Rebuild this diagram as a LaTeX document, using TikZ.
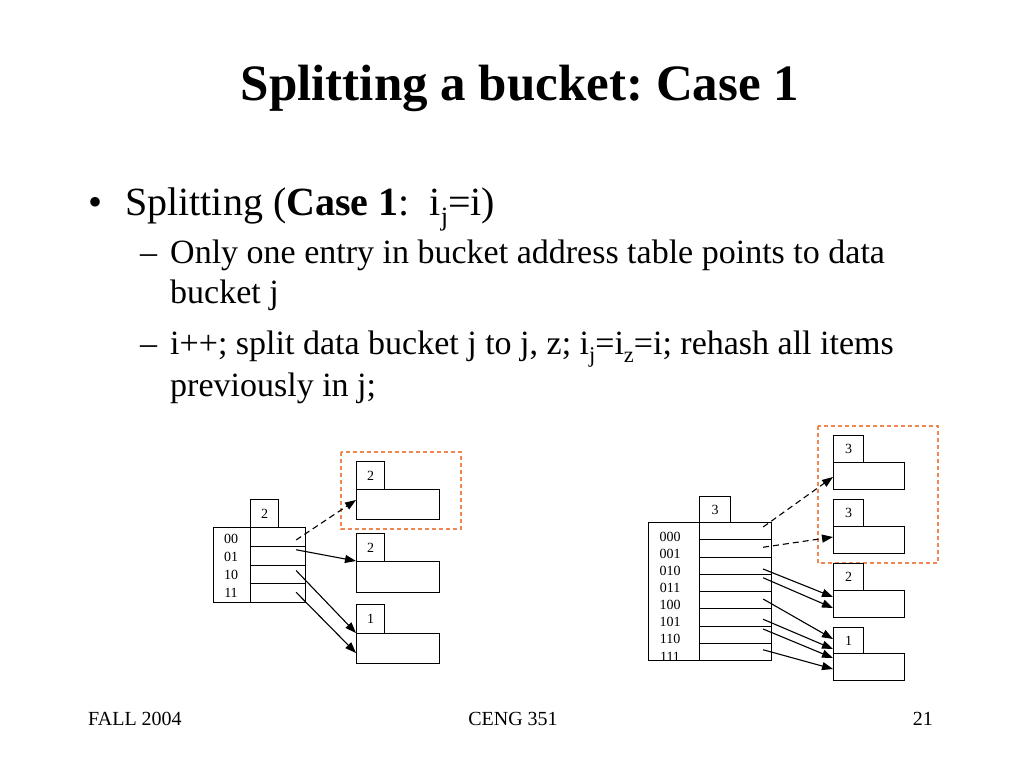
\documentclass[tikz,border=0pt]{standalone}
\usepackage{fontspec}
\setmainfont{Liberation Serif}
\usepackage{graphicx}
\usetikzlibrary{arrows.meta}
\definecolor{selorange}{RGB}{238,135,80}
\newcommand{\subtxt}[1]{\raisebox{-0.25em}{\scalebox{0.66}{#1}}}
\frenchspacing
\begin{document}
\begin{tikzpicture}[x=1pt,y=-1pt,
  box/.style={draw, line width=1.1pt, inner sep=0pt, anchor=north west, font=\fontsize{14}{16}\selectfont},
  lbl/.style={font=\fontsize{14}{16}\selectfont, inner sep=0pt},
  arr/.style={-{Triangle[length=11pt,width=8pt]}, line width=1.1pt},
  darr/.style={arr, dash pattern=on 6pt off 4pt},
  sel/.style={draw=selorange, line width=1.2pt, dash pattern=on 4pt off 3pt},
  txt/.style={inner sep=0pt, anchor=base west}]
\useasboundingbox[fill=white] (0,0) rectangle (1024,768);

% title and text
\node[inner sep=0pt, anchor=base, font=\bfseries\fontsize{51}{60}\selectfont] (title) at (520,100) {Splitting a bucket: Case 1};
\node[txt, font=\fontsize{40}{46}\selectfont] (b1) at (88,215) {\textbullet};
\node[txt, font=\fontsize{40}{46}\selectfont] (t1) at (125,215) {Splitting (\textbf{Case 1}:\ \ i\subtxt{j}=i)};
\node[txt, font=\fontsize{34}{40}\selectfont] (d1) at (140,263) {--};
\node[txt, font=\fontsize{34}{40}\selectfont] (t2) at (170,263) {Only one entry in bucket address table points to data};
\node[txt, font=\fontsize{34}{40}\selectfont] (t3) at (170,303) {bucket j};
\node[txt, font=\fontsize{34}{40}\selectfont] (d2) at (140,354) {--};
\node[txt, font=\fontsize{34}{40}\selectfont] (t4) at (170,354) {i++; split data bucket j to j, z; i\subtxt{j}=i\subtxt{z}=i; rehash all items};
\node[txt, font=\fontsize{34}{40}\selectfont] (t5) at (170,396) {previously in j;};

% footer
\node[txt, font=\fontsize{20}{24}\selectfont] (f1) at (88,725) {FALL 2004};
\node[inner sep=0pt, anchor=base, font=\fontsize{20}{24}\selectfont] (f2) at (513,725) {CENG 351};
\node[inner sep=0pt, anchor=base east, font=\fontsize{20}{24}\selectfont] (f3) at (933,725) {21};

% ---------- left diagram ----------
\draw[sel] (341,452) rectangle (461,529);
\node[box, minimum width=28, minimum height=28] (hL) at (250,499) {2};
\node[box, minimum width=92, minimum height=75] (tL) at (213,527) {};
\foreach \i in {0,...,3} {
  \node[box, minimum width=55, minimum height=18.75] (cL\i) at (250,527+18.75*\i) {};
}
\node[lbl] (lL0) at (231,539) {00};
\node[lbl] (lL1) at (231,557) {01};
\node[lbl] (lL2) at (231,575) {10};
\node[lbl] (lL3) at (231,593) {11};

\node[box, minimum width=28, minimum height=28] (hA) at (356,461) {2};
\node[box, minimum width=83, minimum height=30] (bA) at (356,489) {};
\node[box, minimum width=28, minimum height=28] (hB) at (356,533) {2};
\node[box, minimum width=83, minimum height=31] (bB) at (356,561) {};
\node[box, minimum width=28, minimum height=29] (hC) at (356,604) {1};
\node[box, minimum width=83, minimum height=30] (bC) at (356,633) {};

\draw[darr] ([shift={(-10,13)}]cL0.north east) -- ([shift={(0,11)}]bA.north west);
\draw[arr] ([shift={(-10,4)}]cL1.north east) -- (bB.north west);
\draw[arr] ([shift={(-10,6)}]cL2.north east) -- (bC.north west);
\draw[arr] ([shift={(-10,9)}]cL3.north east) -- ([shift={(0,20)}]bC.north west);

% ---------- right diagram ----------
\draw[sel] (818,426) rectangle (938,563);
\node[box, minimum width=31, minimum height=26] (hR) at (699,496) {3};
\node[box, minimum width=123, minimum height=138] (tR) at (648,522) {};
\foreach \i in {0,...,7} {
  \node[box, minimum width=72, minimum height=17.25] (cR\i) at (699,522+17.25*\i) {};
}
\begin{scope}
\clip (648,522) rectangle (771,660);
\node[lbl] (lR0) at (670,537) {000};
\node[lbl] (lR1) at (670,554) {001};
\node[lbl] (lR2) at (670,571) {010};
\node[lbl] (lR3) at (670,588) {011};
\node[lbl] (lR4) at (670,605) {100};
\node[lbl] (lR5) at (670,622) {101};
\node[lbl] (lR6) at (670,639) {110};
\node[lbl] (lR7) at (670,657) {111};
\end{scope}

\node[box, minimum width=30, minimum height=27] (hRA) at (833,435) {3};
\node[box, minimum width=71, minimum height=27] (bRA) at (833,462) {};
\node[box, minimum width=30, minimum height=27] (hRB) at (833,499) {3};
\node[box, minimum width=71, minimum height=27] (bRB) at (833,526) {};
\node[box, minimum width=30, minimum height=27] (hRC) at (833,563) {2};
\node[box, minimum width=71, minimum height=27] (bRC) at (833,590) {};
\node[box, minimum width=30, minimum height=26] (hRD) at (833,627) {1};
\node[box, minimum width=71, minimum height=27] (bRD) at (833,653) {};

\draw[darr] ([shift={(-9,5)}]cR0.north east) -- ([shift={(0,15)}]bRA.north west);
\draw[darr] ([shift={(-9,8)}]cR1.north east) -- ([shift={(0,11)}]bRB.north west);
\draw[arr] ([shift={(-9,12.5)}]cR2.north east) -- ([shift={(0,7)}]bRC.north west);
\draw[arr] ([shift={(-9,4)}]cR3.north east) -- ([shift={(0,18)}]bRC.north west);
\draw[arr] ([shift={(-9,8)}]cR4.north east) -- ([shift={(0,-14)}]bRD.north west);
\draw[arr] ([shift={(-9,11)}]cR5.north east) -- ([shift={(0,-4)}]bRD.north west);
\draw[arr] ([shift={(-9,3.5)}]cR6.north east) -- ([shift={(0,5)}]bRD.north west);
\draw[arr] ([shift={(-9,7)}]cR7.north east) -- ([shift={(0,16)}]bRD.north west);
\end{tikzpicture}
\end{document}
